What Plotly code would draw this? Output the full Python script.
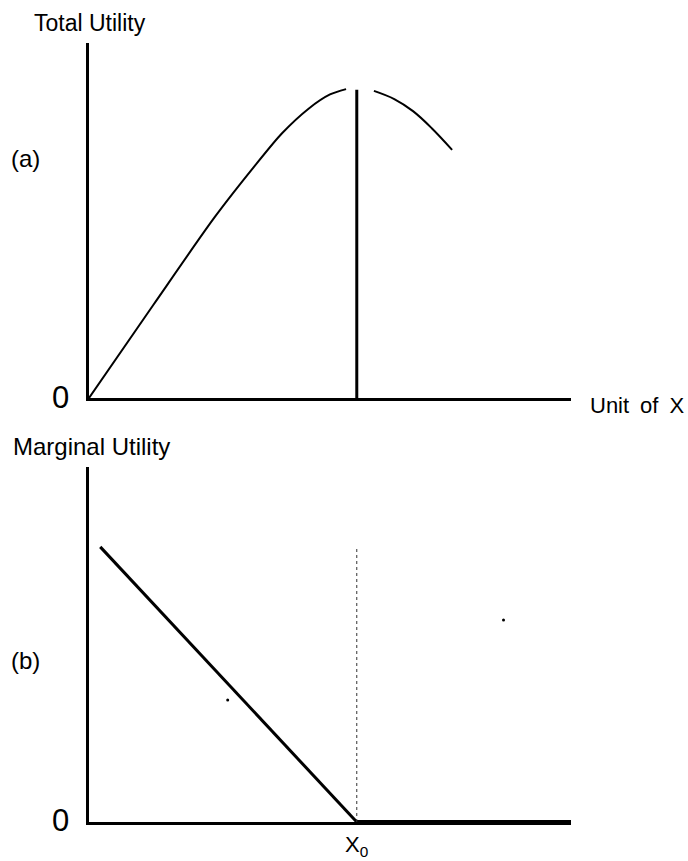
"""Total utility (a) and marginal utility (b) against units of X."""

import plotly.graph_objects as go

W, H = 688, 861

# ─── data (axis units: x 0..9, y 0..10) ─────────────────────────────────────
X0 = 5.0

tu_rise_x = [0.0, 1.20, 2.35, 3.08, 3.60, 4.10, 4.50, 4.80]
tu_rise_y = [0.0, 2.62, 5.10, 6.51, 7.45, 8.15, 8.55, 8.70]

tu_fall_x = [5.32, 5.70, 6.05, 6.40, 6.78]
tu_fall_y = [8.65, 8.42, 8.08, 7.60, 6.99]

tu_peak_y = 8.68

mu_x = [0.21, X0]
mu_y = [7.75, 0.0]

mu_right_x = [X0, 9.0]
mu_right_y = [0.0, 0.0]

# specks of the scanned original
speck_x = [2.59, 7.74]
speck_y = [3.44, 5.69]

FONT = "Liberation Sans, Arial, sans-serif"


def px_x(p):
    return p / W


def px_y(p):
    return 1 - p / H


fig = go.Figure()

# (a) total utility
fig.add_trace(go.Scatter(x=tu_rise_x, y=tu_rise_y, mode="lines",
                         line={"color": "black", "width": 2, "shape": "spline",
                               "smoothing": 0.8},
                         xaxis="x", yaxis="y"))
fig.add_trace(go.Scatter(x=tu_fall_x, y=tu_fall_y, mode="lines",
                         line={"color": "black", "width": 2, "shape": "spline",
                               "smoothing": 1.0},
                         xaxis="x", yaxis="y"))
fig.add_trace(go.Scatter(x=[X0, X0], y=[0, tu_peak_y], mode="lines",
                         line={"color": "black", "width": 3},
                         xaxis="x", yaxis="y"))

# (b) marginal utility
fig.add_trace(go.Scatter(x=mu_x, y=mu_y, mode="lines",
                         line={"color": "black", "width": 3},
                         xaxis="x2", yaxis="y2"))
fig.add_trace(go.Scatter(x=mu_right_x, y=mu_right_y, mode="lines",
                         line={"color": "black", "width": 4},
                         xaxis="x2", yaxis="y2", cliponaxis=False))
fig.add_trace(go.Scatter(x=[X0, X0], y=[0, mu_y[0]], mode="lines",
                         line={"color": "#333", "width": 1, "dash": "dot"},
                         xaxis="x2", yaxis="y2"))
fig.add_trace(go.Scatter(x=speck_x, y=speck_y, mode="markers",
                         marker={"color": "black", "size": 3},
                         xaxis="x2", yaxis="y2"))

axis_common = dict(
    range=[0, 9], showgrid=False, zeroline=False, showticklabels=False,
    ticks="", showline=True, linecolor="black", linewidth=3,
)
yaxis_common = dict(
    range=[0, 10], showgrid=False, zeroline=False, showticklabels=False,
    ticks="", showline=True, linecolor="black", linewidth=3,
)

text = [
    ("Total Utility", 90, 23, 23, "center"),
    ("(a)", 25, 158, 24, "center"),
    ("0", 60, 397, 31, "center"),
    ("Unit\u2002of\u2002X", 588, 405, 22, "left"),
    ("Marginal Utility", 92, 447, 24, "center"),
    ("(b)", 25, 660, 24, "center"),
    ("0", 60, 820, 31, "center"),
]
annotations = [
    dict(text=t, x=px_x(x), y=px_y(y), xref="paper", yref="paper",
         xanchor=anchor, yanchor="middle", showarrow=False,
         font={"size": size, "color": "black", "family": FONT})
    for t, x, y, size, anchor in text
]
annotations.append(dict(
    text="X<sub>0</sub>", x=X0, y=px_y(846), xref="x2", yref="paper",
    xanchor="center", yanchor="middle", showarrow=False,
    font={"size": 22, "color": "black", "family": FONT},
))

fig.update_layout(
    width=W,
    height=H,
    showlegend=False,
    paper_bgcolor="white",
    plot_bgcolor="white",
    margin={"l": 0, "r": 0, "t": 0, "b": 0},
    xaxis={**axis_common, "domain": [px_x(89), px_x(571)], "anchor": "y"},
    yaxis={**yaxis_common, "domain": [px_y(398), px_y(43)], "anchor": "x"},
    xaxis2={**axis_common, "domain": [px_x(89), px_x(571)], "anchor": "y2"},
    yaxis2={**yaxis_common, "domain": [px_y(822), px_y(467)], "anchor": "x2"},
    annotations=annotations,
)

# page body has an 8px default margin; drop it so the figure fills the window
fig.write_html("out.html", config={"displayModeBar": False},
               post_script="document.body.style.margin='0';")
